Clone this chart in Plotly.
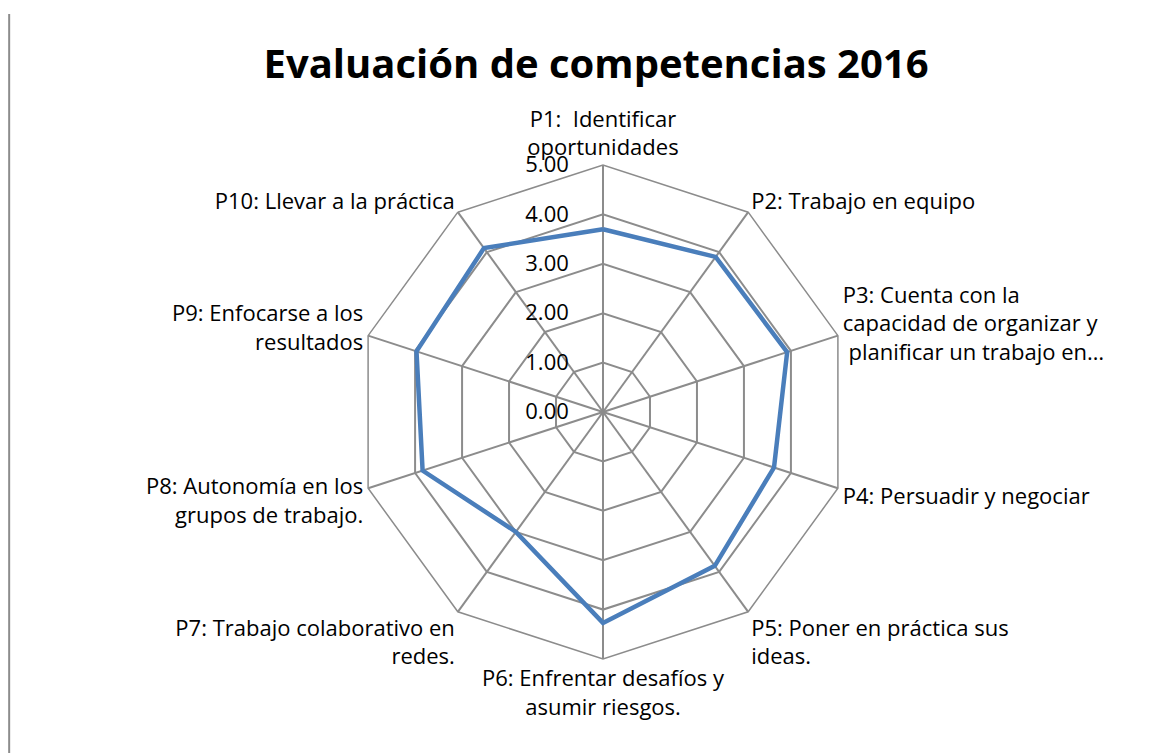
import plotly.graph_objects as go

# competencias evaluadas (ejes del radar)
categorias = [
    "P1:  Identificar<br>oportunidades",
    "P2: Trabajo en equipo",
    "P3: Cuenta con la<br>capacidad de organizar y<br> planificar un trabajo en…",
    "P4: Persuadir y negociar",
    "P5: Poner en práctica sus<br>ideas.",
    "P6: Enfrentar desafíos y<br>asumir riesgos.",
    "P7: Trabajo colaborativo en<br>redes.",
    "P8: Autonomía en los<br>grupos de trabajo.",
    "P9: Enfocarse a los<br>resultados",
    "P10: Llevar a la práctica",
]
# puntajes promedio 2016
puntajes = [3.70, 3.88, 3.92, 3.64, 3.85, 4.27, 3.00, 3.84, 3.97, 4.10]

font_txt = "Open Sans, Noto Sans, sans-serif"
gris = "#8c8c8c"

fig = go.Figure()
fig.add_trace(go.Scatterpolar(
    r=puntajes + puntajes[:1],
    theta=categorias + categorias[:1],
    mode="lines",
    line=dict(color="#4a7ebb", width=4.5),
    showlegend=False,
))

fig.update_layout(
    width=1170, height=753,
    margin=dict(l=0, r=0, t=0, b=0),
    paper_bgcolor="white",
    font=dict(family=font_txt, size=22, color="black"),
    title=dict(text="<b>Evaluación de competencias 2016</b>",
               x=0.5026, xanchor="center", y=0.9256, yanchor="middle",
               font=dict(family=font_txt, size=40, color="black")),
    polar=dict(
        domain=dict(x=[0.2974, 0.7197], y=[0.1355, 0.7915]),
        bgcolor="white",
        gridshape="linear",
        radialaxis=dict(
            range=[0, 5], dtick=1, tickformat=".2f",
            angle=90, side="counterclockwise", tickangle=90,
            showline=False, gridcolor=gris, gridwidth=1.5,
            ticks="outside", ticklen=26, tickcolor="rgba(0,0,0,0)",
            tickfont=dict(size=22, color="black"),
        ),
        angularaxis=dict(
            rotation=90, direction="clockwise",
            showline=True, linecolor=gris, linewidth=1.5,
            gridcolor=gris, gridwidth=1.5,
            ticks="", tickfont=dict(size=22, color="black"),
        ),
    ),
    shapes=[dict(type="line", xref="paper", yref="paper",
                 x0=0.001, x1=0.001, y0=0, y1=0.992,
                 line=dict(color="#8c8c8c", width=2))],
)

fig.write_html("out.html")
